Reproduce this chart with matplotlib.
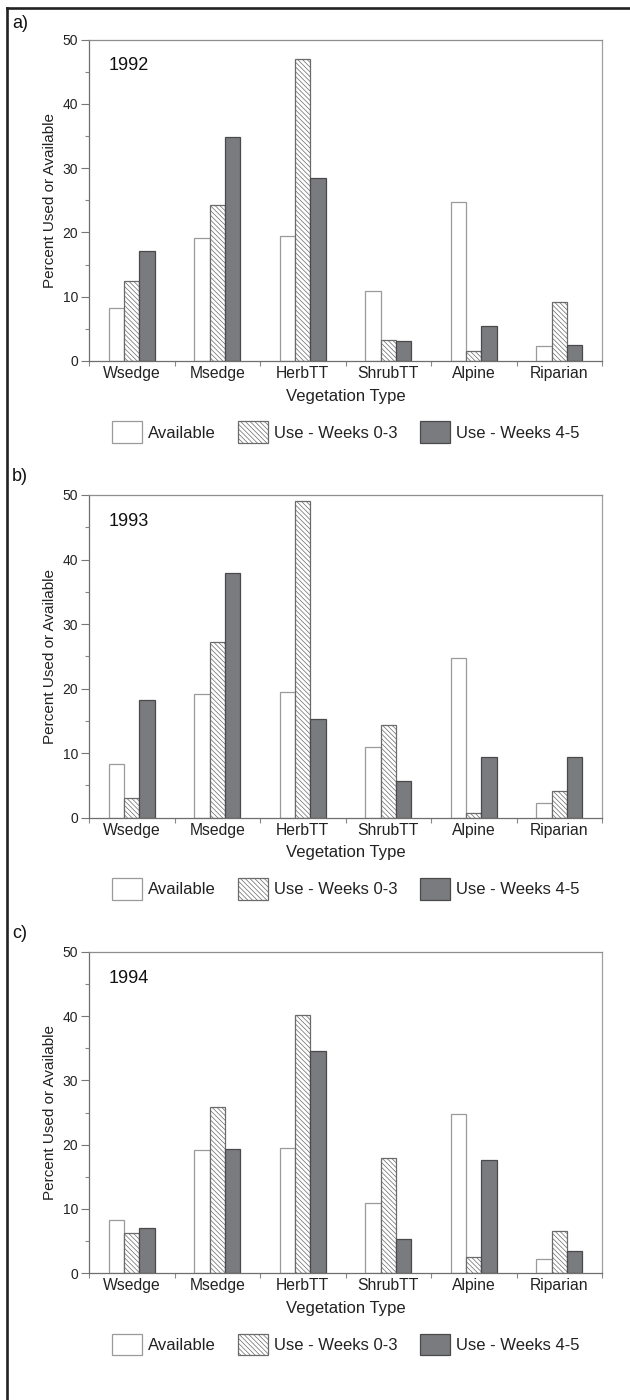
import numpy as np
import matplotlib
matplotlib.use('Agg')
import matplotlib.pyplot as plt
from matplotlib.patches import Patch
from matplotlib.lines import Line2D

plt.rcParams['font.family'] = ['Liberation Sans', 'DejaVu Sans']
plt.rcParams['hatch.linewidth'] = 0.5

# data
veg_types = ['Wsedge', 'Msedge', 'HerbTT', 'ShrubTT', 'Alpine', 'Riparian']
years = ['1992', '1993', '1994']
panel_tags = ['a)', 'b)', 'c)']
series_names = ['Available', 'Use - Weeks 0-3', 'Use - Weeks 4-5']

available = [8.3, 19.2, 19.5, 10.9, 24.7, 2.3]

use_early_1992 = [12.5, 24.2, 47.0, 3.2, 1.6, 9.1]
use_late_1992 = [17.1, 34.8, 28.5, 3.1, 5.4, 2.5]

use_early_1993 = [3.0, 27.2, 49.1, 14.4, 0.8, 4.2]
use_late_1993 = [18.2, 37.9, 15.3, 5.7, 9.4, 9.4]

use_early_1994 = [6.3, 25.8, 40.2, 17.9, 2.5, 6.5]
use_late_1994 = [7.1, 19.4, 34.5, 5.4, 17.6, 3.5]

early = [use_early_1992, use_early_1993, use_early_1994]
late = [use_late_1992, use_late_1993, use_late_1994]

# bar styles: (face, edge, hatch)
styles = [('white', '#9a9a9a', None),
          ('white', '#6a6a6a', '\\' * 7),
          ('#7a7b7e', '#4a4a4a', None)]

W, H = 630, 1400
fig = plt.figure(figsize=(W / 100, H / 100), dpi=100)

# axes boxes in pixels: (top, bottom)
ax_left, ax_right = 89, 602
ax_rows = [(39.5, 361), (495, 817.7), (951.7, 1273.3)]
tag_y = [24, 476, 933]

x = np.arange(len(veg_types))
bw = 0.18

for i, (top, bot) in enumerate(ax_rows):
    ax = fig.add_axes([ax_left / W, 1 - bot / H, (ax_right - ax_left) / W, (bot - top) / H])
    vals = [available, early[i], late[i]]
    for j, (v, (fc, ec, hatch)) in enumerate(zip(vals, styles)):
        ax.bar(x + (j - 1) * bw, v, width=bw, facecolor=fc, edgecolor=ec,
               hatch=hatch, linewidth=0.9, zorder=2)

    ax.set_xlim(-0.5, len(veg_types) - 0.5)
    ax.set_ylim(0, 50)
    ax.set_yticks(np.arange(0, 51, 10))
    ax.set_yticks(np.arange(0, 51, 5), minor=True)
    ax.set_xticks(x)
    ax.set_xticklabels(veg_types, fontsize=11.3, color='#222222')
    ax.set_xticks(np.arange(-0.5, len(veg_types)), minor=True)
    ax.tick_params(axis='x', which='major', length=0, pad=3.5)
    ax.tick_params(axis='x', which='minor', length=3.5, width=0.8, color='#888888')
    ax.tick_params(axis='y', which='major', length=5.5, width=0.8, color='#777777',
                   labelsize=10, labelcolor='#222222', pad=2.5)
    ax.tick_params(axis='y', which='minor', length=3, width=0.8, color='#888888')

    ax.spines['left'].set_color('#6e6e6e')
    ax.spines['bottom'].set_color('#6e6e6e')
    ax.spines['top'].set_color('#8e8e8e')
    ax.spines['right'].set_color('#a0a0a0')
    for s in ax.spines.values():
        s.set_linewidth(0.9)

    ax.set_ylabel('Percent Used or Available', fontsize=11, color='#222222', labelpad=4)
    ax.set_xlabel('Vegetation Type', fontsize=12, color='#222222', labelpad=5.5)

    ax.text(0.039, 0.918, years[i], transform=ax.transAxes, fontsize=13,
            ha='left', va='center', color='#111111')

    handles = [Patch(facecolor=fc, edgecolor=ec, hatch=hatch, linewidth=0.9)
               for fc, ec, hatch in styles]
    ax.legend(handles, series_names, loc='center', bbox_to_anchor=(0.5, -0.221),
              ncol=3, frameon=False, fontsize=12, handlelength=1.8,
              handleheight=1.6, handletextpad=0.35, columnspacing=1.35,
              labelcolor='#222222')

    fig.text(12 / W, 1 - tag_y[i] / H, panel_tags[i], fontsize=13,
             ha='left', va='center', color='#111111')

# outer frame on left and top
fig.add_artist(Line2D([7 / W, 7 / W], [0, 1 - 8 / H], color='#222222',
                      linewidth=1.9, transform=fig.transFigure))
fig.add_artist(Line2D([7 / W, 1], [1 - 8 / H, 1 - 8 / H], color='#222222',
                      linewidth=1.9, transform=fig.transFigure))

fig.savefig('out.png', dpi=100, facecolor='white')
